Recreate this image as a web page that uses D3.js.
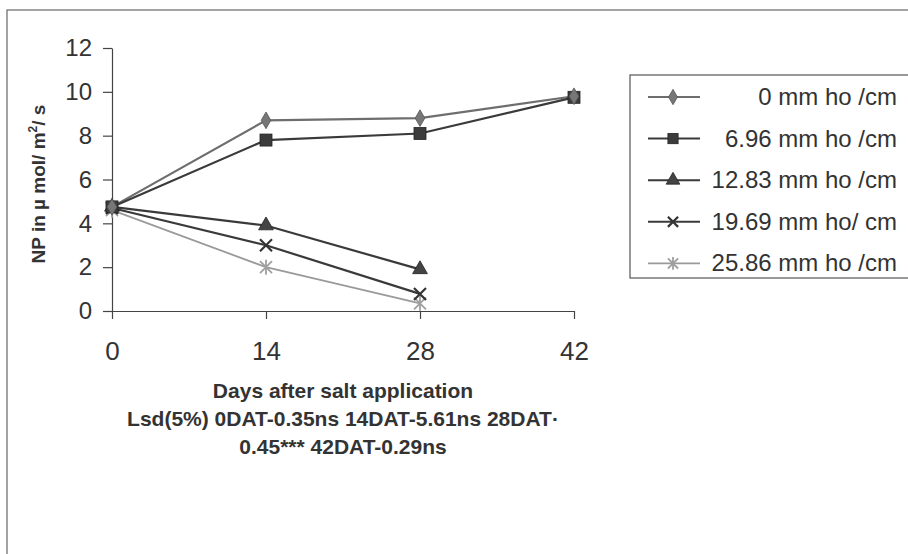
<!DOCTYPE html>
<html>
<head>
<meta charset="utf-8">
<script src="https://cdn.jsdelivr.net/npm/d3@7"></script>
<style>
  html, body { margin: 0; padding: 0; background: #fff; }
  svg { display: block; font-family: "Liberation Sans", Arial, sans-serif; }
</style>
</head>
<body>
<svg id="chart" width="908" height="554"></svg>
<script>
// Days after treatment
const days = [0, 14, 28, 42];
const yTicks = [0, 2, 4, 6, 8, 10, 12];

// Net photosynthesis per salinity level (µmol/m²/s)
const seriesNames = ["0  mm ho /cm", "6.96 mm ho /cm", "12.83 mm ho /cm", "19.69 mm ho/ cm", "25.86 mm ho /cm"];
const s0    = [4.75, 8.7, 8.8, 9.8];
const s696  = [4.75, 7.8, 8.1, 9.75];
const s1283 = [4.75, 3.9, 1.9, null];
const s1969 = [4.7, 3.0, 0.78, null];
const s2586 = [4.6, 2.0, 0.35, null];

const seriesValues = [s0, s696, s1283, s1969, s2586];
const markers = ["diamond", "square", "triangle", "cross", "star"];
const lineColors = ["#6e6e6e", "#3a3a3a", "#3a3a3a", "#3a3a3a", "#9a9a9a"];
const markerColors = ["#777", "#3c3c3c", "#444", "#333", "#a0a0a0"];

const svg = d3.select("#chart");
const ink = "#333";
const font = "Liberation Sans, Arial, sans-serif";

// outer frame
svg.append("rect").attr("x", 7).attr("y", 10).attr("width", 920).attr("height", 560)
  .attr("fill", "none").attr("stroke", "#666").attr("stroke-width", 1.2);

const x = d3.scaleLinear().domain([0, 42]).range([112, 574]);
const y = d3.scaleLinear().domain([0, 12]).range([311, 48]);

// axes
const yAxis = d3.axisLeft(y).tickValues(yTicks).tickSize(9).tickPadding(11).tickSizeOuter(0);
const gy = svg.append("g").attr("transform", "translate(112,0)").call(yAxis);
gy.select(".domain").attr("stroke", "#444").attr("stroke-width", 1.2);
gy.selectAll(".tick line").attr("stroke", "#444").attr("stroke-width", 1.2);
gy.selectAll(".tick text").attr("font-size", 24).attr("fill", ink).attr("font-family", font);

const xAxis = d3.axisBottom(x).tickValues(days).tickSize(8).tickPadding(23).tickSizeOuter(0);
const gx = svg.append("g").attr("transform", "translate(0,311)").call(xAxis);
gx.select(".domain").attr("stroke", "#444").attr("stroke-width", 1.2);
gx.selectAll(".tick line").attr("stroke", "#444").attr("stroke-width", 1.2);
gx.selectAll(".tick text").attr("font-size", 26).attr("fill", ink).attr("font-family", font);

// marker drawing
function drawMarker(g, type, cx, cy, color, s) {
  s = s || 1;
  if (type === "diamond") {
    g.append("path").attr("d", d3.symbol(d3.symbolDiamond, 80 * s)())
      .attr("transform", `translate(${cx},${cy})`).attr("fill", color).attr("stroke", "#555").attr("stroke-width", 0.8);
  } else if (type === "square") {
    const h = 6 * s;
    g.append("rect").attr("x", cx - h).attr("y", cy - h).attr("width", 2 * h).attr("height", 2 * h)
      .attr("fill", color).attr("stroke", "#222").attr("stroke-width", 0.8);
  } else if (type === "triangle") {
    g.append("path").attr("d", d3.symbol(d3.symbolTriangle, 95 * s)())
      .attr("transform", `translate(${cx},${cy})`).attr("fill", color).attr("stroke", "#222").attr("stroke-width", 0.8);
  } else if (type === "cross") {
    const h = 6 * s;
    g.append("path").attr("d", `M${cx - h},${cy - h}L${cx + h},${cy + h}M${cx - h},${cy + h}L${cx + h},${cy - h}`)
      .attr("stroke", color).attr("stroke-width", 2.2).attr("fill", "none");
  } else if (type === "star") {
    const h = 6 * s;
    g.append("path").attr("d",
      `M${cx - h},${cy - h}L${cx + h},${cy + h}M${cx - h},${cy + h}L${cx + h},${cy - h}M${cx},${cy - h * 1.25}L${cx},${cy + h * 1.25}`)
      .attr("stroke", color).attr("stroke-width", 1.8).attr("fill", "none");
  }
}

const line = d3.line().defined(d => d.v !== null).x(d => x(d.day)).y(d => y(d.v));

const plot = svg.append("g");
seriesValues.forEach((vals, i) => {
  const pts = days.map((d, j) => ({ day: d, v: vals[j] }));
  plot.append("path").datum(pts).attr("d", line)
    .attr("fill", "none").attr("stroke", lineColors[i]).attr("stroke-width", i === 4 ? 1.8 : 2.2);
});
// markers drawn last-to-first so the upper series sit on top
for (let i = seriesValues.length - 1; i >= 0; i--) {
  seriesValues[i].forEach((v, j) => {
    if (v !== null) drawMarker(plot, markers[i], x(days[j]), y(v), markerColors[i]);
  });
}

// y axis title
svg.append("text")
  .attr("transform", "translate(45,184) rotate(-90)")
  .attr("text-anchor", "middle").attr("font-size", 19).attr("font-weight", "bold").attr("fill", ink)
  .call(t => {
    t.append("tspan").text("NP in µ mol/ m");
    t.append("tspan").attr("font-size", 12).attr("dy", -8).text("2");
    t.append("tspan").attr("dy", 8).text("/ s");
  });

// x axis title and note
const xTitle = ["Days after salt application", "Lsd(5%) 0DAT-0.35ns 14DAT-5.61ns 28DAT·", "0.45*** 42DAT-0.29ns"];
xTitle.forEach((t, i) => {
  svg.append("text").attr("x", 343).attr("y", 398 + i * 28)
    .attr("text-anchor", "middle").attr("font-size", 21).attr("font-weight", "bold").attr("fill", ink).text(t);
});

// legend
const lg = svg.append("g");
lg.append("rect").attr("x", 630).attr("y", 75).attr("width", 300).attr("height", 203)
  .attr("fill", "#fff").attr("stroke", "#555").attr("stroke-width", 1.2);
seriesNames.forEach((name, i) => {
  const cy = 97 + i * 41.6;
  lg.append("line").attr("x1", 648).attr("x2", 700).attr("y1", cy).attr("y2", cy)
    .attr("stroke", lineColors[i]).attr("stroke-width", i === 4 ? 1.6 : 2);
  drawMarker(lg, markers[i], 673, cy, markerColors[i], 0.85);
  lg.append("text").attr("x", 897).attr("y", cy + 8).attr("text-anchor", "end")
    .attr("font-size", 24).attr("fill", ink).text(name);
});
</script>
</body>
</html>
